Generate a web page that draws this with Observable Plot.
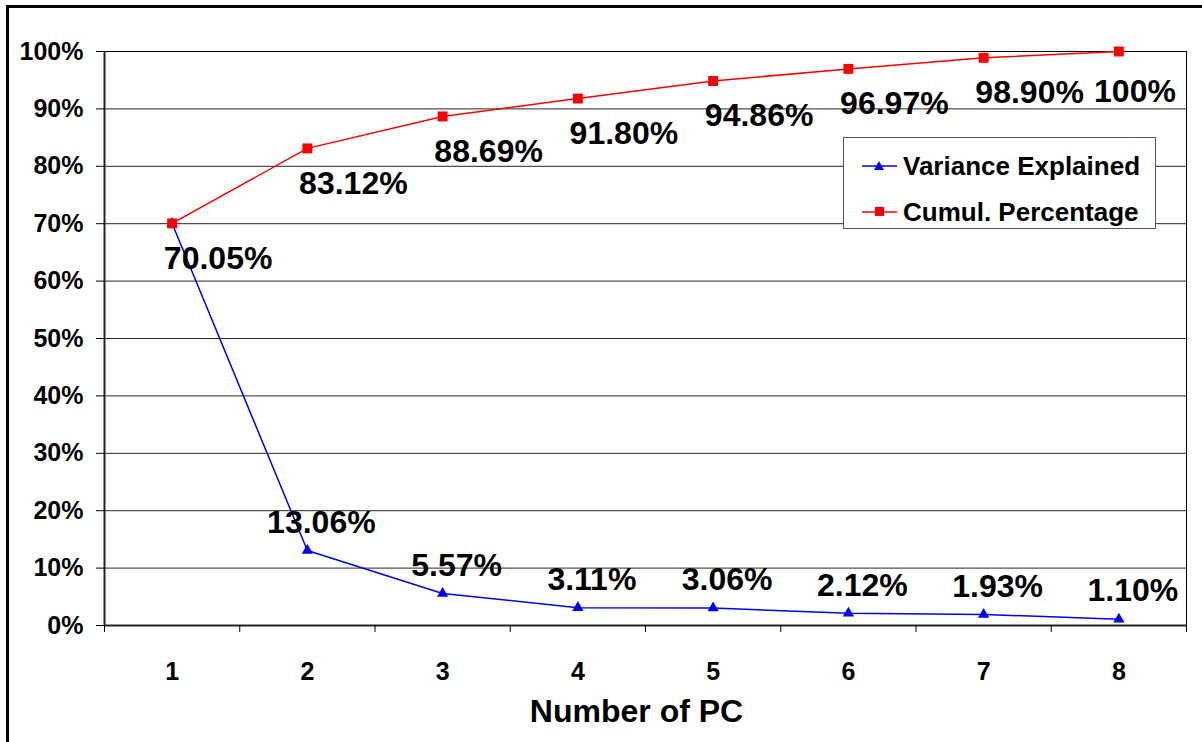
<!DOCTYPE html>
<html>
<head>
<meta charset="utf-8">
<script src="https://cdn.jsdelivr.net/npm/d3@7"></script>
<script src="https://cdn.jsdelivr.net/npm/@observablehq/plot@0.6"></script>
<style>
  body { margin: 0; background: #fff; font-family: Arial, "Liberation Sans", sans-serif; }
  #wrap { position: relative; width: 1202px; height: 742px; overflow: hidden; background: #fff; }
  #outer { position: absolute; left: 6px; top: 5px; width: 1400px; height: 1000px; border: 3px solid #000; box-sizing: border-box; }
  #chart { position: absolute; left: 0; top: 0; }
  #legend { position: absolute; left: 843px; top: 137px; width: 313px; height: 92px; border: 1px solid #555; background: #fff; box-sizing: border-box; }
  .row { position: absolute; left: 18px; height: 30px; display: flex; align-items: center; font-weight: bold; font-size: 26px; color: #000; white-space: nowrap; }
  .row svg { margin-right: 6px; }
</style>
</head>
<body>
<div id="wrap">
  <div id="outer"></div>
  <div id="chart"></div>
  <div id="legend"></div>
</div>
<script>
const pcs = [1, 2, 3, 4, 5, 6, 7, 8];
const variance = [70.05, 13.06, 5.57, 3.11, 3.06, 2.12, 1.93, 1.10];
const cumulative = [70.05, 83.12, 88.69, 91.80, 94.86, 96.97, 98.90, 100];
const varianceLabels = ["", "13.06%", "5.57%", "3.11%", "3.06%", "2.12%", "1.93%", "1.10%"];
const cumulativeLabels = ["70.05%", "83.12%", "88.69%", "91.80%", "94.86%", "96.97%", "98.90%", "100%"];
const yTicks = [0, 10, 20, 30, 40, 50, 60, 70, 80, 90, 100];
const xBoundaries = [0.5, 1.5, 2.5, 3.5, 4.5, 5.5, 6.5, 7.5, 8.5];
const seriesNames = ["Variance Explained", "Cumul. Percentage"];
const xTitle = "Number of PC";

const rows = pcs.map((pc, i) => ({
  pc, variance: variance[i], cumulative: cumulative[i],
  vLabel: varianceLabels[i], cLabel: cumulativeLabels[i]
}));
const lastPc = pcs[pcs.length - 1];

const chart = Plot.plot({
  width: 1202,
  height: 742,
  marginLeft: 104,
  marginRight: 16,
  marginTop: 51,
  marginBottom: 117,
  style: { fontFamily: "Arial, 'Liberation Sans', sans-serif", fontWeight: "bold", background: "transparent", color: "#000" },
  x: { type: "linear", domain: [0.5, 8.5] },
  y: { type: "linear", domain: [0, 100] },
  marks: [
    Plot.gridY(yTicks, { stroke: "#000", strokeOpacity: 0.85, strokeWidth: 1 }),
    Plot.frame({ stroke: "#000", strokeWidth: 1 }),
    Plot.ruleX([0.5], { stroke: "#222", strokeWidth: 2 }),
    Plot.ruleY([0], { stroke: "#222", strokeWidth: 2 }),
    Plot.axisY(yTicks, { tickSize: 8, tickPadding: 13, fontSize: 25, fontWeight: "bold", tickFormat: d => d + "%", label: null, stroke: "#000" }),
    Plot.axisX(xBoundaries, { tickSize: 7, tickFormat: () => "", label: null, stroke: "#000" }),
    Plot.axisX(pcs, { tickSize: 0, tickPadding: 37, fontSize: 25, fontWeight: "bold", tickFormat: d3.format("d"), label: null }),
    Plot.text([xTitle], { frameAnchor: "bottom", dy: 96, dx: -9, fontSize: 32, fontWeight: "bold", fill: "#000" }),
    Plot.line(rows, { x: "pc", y: "variance", stroke: "#0000ff", strokeWidth: 1.5 }),
    Plot.dot(rows, { x: "pc", y: "variance", symbol: "triangle", r: 4.2, fill: "#0000ff", stroke: "none" }),
    Plot.line(rows, { x: "pc", y: "cumulative", stroke: "#ff0000", strokeWidth: 1.5 }),
    Plot.dot(rows, { x: "pc", y: "cumulative", symbol: "square", r: 5.6, fill: "#ff0000", stroke: "none" }),
    Plot.text(rows, { x: "pc", y: "variance", text: "vLabel", dx: 14, dy: -28, fontSize: 32, fontWeight: "bold", fill: "#000" }),
    Plot.text(rows, { filter: d => d.pc !== lastPc, x: "pc", y: "cumulative", text: "cLabel", dx: 46, dy: 35, fontSize: 32, fontWeight: "bold", fill: "#000" }),
    Plot.text(rows, { filter: d => d.pc === lastPc, x: "pc", y: "cumulative", text: "cLabel", textAnchor: "end", dx: 57, dy: 40, fontSize: 32, fontWeight: "bold", fill: "#000" })
  ]
});
document.getElementById("chart").appendChild(chart);

// Legend
const legend = document.getElementById("legend");
const legendItems = [
  { name: seriesNames[0], color: "#0000ff", shape: "triangle", top: 13 },
  { name: seriesNames[1], color: "#ff0000", shape: "square", top: 59 }
];
for (const item of legendItems) {
  const row = document.createElement("div");
  row.className = "row";
  row.style.top = item.top + "px";
  const marker = item.shape === "triangle"
    ? `<polygon points="17,10 22,19 12,19" fill="${item.color}"/>`
    : `<rect x="13" y="10" width="9" height="9" fill="${item.color}"/>`;
  row.innerHTML = `<svg width="35" height="30" viewBox="0 0 35 30"><line x1="0" y1="15" x2="35" y2="15" stroke="${item.color}" stroke-width="1.5"/>${marker}</svg><span>${item.name}</span>`;
  legend.appendChild(row);
}
</script>
</body>
</html>
